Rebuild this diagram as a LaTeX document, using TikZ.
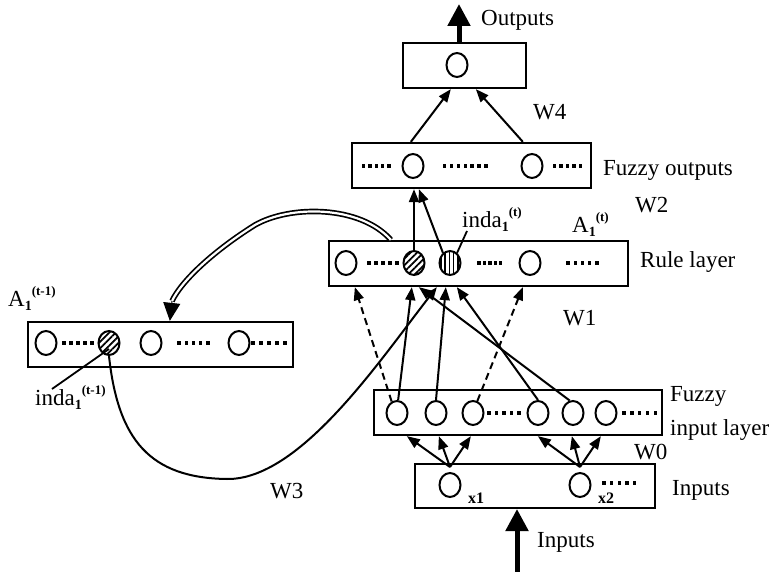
\documentclass[tikz,border=0pt]{standalone}
\usepackage{fontspec}
\setmainfont{Liberation Serif}
\usetikzlibrary{arrows.meta,shapes.geometric,patterns.meta}

% index pair: subscript followed by superscript
\newcommand\idx[2]{\raisebox{-4pt}{\fontsize{14}{14}\selectfont\bfseries #1}\raisebox{11pt}{\fontsize{13}{13}\selectfont\bfseries #2}}
% row of square dots: x of first dot, y, spacing, count
\newcommand\dotrow[4]{\foreach \k in {1,...,#4}{\fill ({#1+(\k-1)*#3-1.7},{#2-1.7}) rectangle ++(3.4,3.4);}}

\tikzset{
  every node/.style={font=\fontsize{23}{27}\selectfont},
  layerbox/.style={draw, rectangle, line width=2.3pt, inner sep=0pt, minimum height=45pt},
  neuron/.style={ellipse, draw, line width=2pt, minimum width=21pt, minimum height=24pt, inner sep=0pt},
  diaghatch/.style={pattern={Lines[angle=45,distance=4.6pt,line width=1.7pt]}},
  verthatch/.style={pattern={Lines[angle=90,distance=4.2pt,line width=1.6pt]}},
  conn/.style={line width=2pt, -{Triangle[length=13pt,width=10pt]}},
  dconn/.style={conn, dash pattern=on 7pt off 4.5pt},
  bigarrow/.style={line width=5pt, -{Triangle[length=22pt,width=22pt]}},
  lbl/.style={anchor=base west, inner sep=0pt},
  small/.style={font=\fontsize{16}{16}\selectfont\bfseries},
  pointer/.style={line width=1.8pt},
}

\begin{document}
\begin{tikzpicture}[x=1pt,y=-1pt]
\useasboundingbox (0,0) rectangle (782,572);

% layer boxes
\node[layerbox, minimum width=123pt] (outbox) at (464.5,65.5) {};
\node[layerbox, minimum width=239pt] (fobox) at (471.5,165.5) {};
\node[layerbox, minimum width=299pt] (rulebox) at (478.5,263.5) {};
\node[layerbox, minimum width=265pt] (prevbox) at (160.5,344.5) {};
\node[layerbox, minimum width=288pt] (fibox) at (518,412.5) {};
\node[layerbox, minimum width=240pt, minimum height=44pt] (inbox) at (535,486) {};

% neurons
\node[neuron] (o1) at (457,65) {};
\node[neuron] (fo1) at (413,166) {};
\node[neuron] (fo2) at (532,166) {};
\node[neuron] (r1) at (346,263) {};
\node[neuron, diaghatch] (r2) at (414,263) {};
\node[neuron, verthatch] (r3) at (450,263) {};
\node[neuron] (r4) at (530,263) {};
\node[neuron] (p1) at (46,343) {};
\node[neuron, diaghatch] (p2) at (109,343) {};
\node[neuron] (p3) at (151,343) {};
\node[neuron] (p4) at (239,343) {};
\node[neuron] (f1) at (397,413) {};
\node[neuron] (f2) at (436,413) {};
\node[neuron] (f3) at (473,413) {};
\node[neuron] (f4) at (538,413) {};
\node[neuron] (f5) at (573,413) {};
\node[neuron] (f6) at (606,413) {};
\node[neuron] (x1) at (450,485) {};
\node[neuron] (x2) at (580,485) {};

% dotted continuations inside the boxes
\dotrow{363.5}{166}{6.4}{5}
\dotrow{444.5}{166}{6.9}{7}
\dotrow{554.5}{166}{6.5}{5}
\dotrow{369}{263}{7}{5}
\dotrow{479}{263}{5.4}{5}
\dotrow{568}{263}{7.2}{5}
\dotrow{64}{343}{7}{5}
\dotrow{179}{343}{7.2}{5}
\dotrow{253}{343}{8}{5}
\dotrow{489}{413}{7.5}{5}
\dotrow{624}{413}{7.8}{5}
\dotrow{604}{483}{7.6}{5}

% labels
\node[lbl] (outlbl) at (481,26) {Outputs};
\node[lbl] (w4) at (533,120) {W4};
\node[lbl] (folbl) at (603,176) {Fuzzy outputs};
\node[lbl] (w2) at (635,213) {W2};
\node[lbl] (rulelbl) at (640,268) {Rule layer};
\node[lbl] (w1) at (563,325) {W1};
\node[lbl] (indat) at (462,228) {inda\idx{1}{(t)}};
\node[lbl] (at) at (572,233) {A\idx{1}{(t)}};
\node[lbl] (ap) at (8,306) {A\idx{1}{(t-1)}};
\node[lbl] (indap) at (35,405) {inda\idx{1}{(t-1)}};
\node[lbl] (w3) at (270,498) {W3};
\node[lbl] (fil1) at (670,401) {Fuzzy};
\node[lbl] (fil2) at (670,435) {input layer};
\node[lbl] (w0) at (634,459) {W0};
\node[lbl] (inlbl) at (672,495) {Inputs};
\node[lbl] (inarr) at (537,547) {Inputs};
\node[lbl, small] (x1l) at (468,503) {x1};
\node[lbl, small] (x2l) at (598,503) {x2};

% network output and input arrows
\coordinate (outtip) at (459,4);
\draw[bigarrow] (outbox.north -| outtip) -- (outtip);
\coordinate (intail) at (517,574);
\coordinate (intip) at (517,509);
\draw[bigarrow] (intail) -- (intip);

% W4
\draw[conn] ([xshift=60pt]fobox.north west) -- ([xshift=49pt]outbox.south west);
\draw[conn] ([xshift=172pt]fobox.north west) -- ([xshift=74pt]outbox.south west);

% W2
\draw[conn] (r2.north) -- (r2.north |- fobox.south);
\draw[conn] (r3.125) -- ([xshift=68pt]fobox.south west);

% W1
\draw[dconn] (f1.115) -- ([xshift=27pt]rulebox.south west);
\draw[conn] (f1.85) -- ([xshift=84pt]rulebox.south west);
\draw[conn] (f2.north) -- ([xshift=118pt]rulebox.south west);
\draw[dconn] (f3.70) -- ([xshift=195pt]rulebox.south west);
\draw[conn] (f4.north) -- ([xshift=129pt]rulebox.south west);
\draw[conn] (f5.105) -- ([xshift=91pt]rulebox.south west);

% W0
\draw[conn] ([yshift=5pt]x1.north) -- ([xshift=34pt]fibox.south west);
\draw[conn] ([yshift=5pt]x1.north) -- ([xshift=66pt]fibox.south west);
\draw[conn] ([yshift=5pt]x1.north) -- ([xshift=98pt]fibox.south west);
\draw[conn] ([yshift=5pt]x2.north) -- ([xshift=165pt]fibox.south west);
\draw[conn] ([yshift=5pt]x2.north) -- ([xshift=199pt]fibox.south west);
\draw[conn] ([yshift=5pt]x2.north) -- ([xshift=228pt]fibox.south west);

% W3 recurrent link
\draw[conn] (p2.south) .. controls (118,440) and (150,478) .. (227,479)
  .. controls (300,480) and (380,360) .. ([xshift=109pt]rulebox.south west);

% copy of the rule activations to the previous-step layer
\coordinate (dblend) at (172,301);
\draw[line width=1.7pt, double, double distance=2.2pt]
  ([xshift=63pt]rulebox.north west) .. controls (360,205) and (290,205) .. (255,225)
  .. controls (215,250) and (182,280) .. (dblend);
\draw[line width=1pt, -{Triangle[length=18pt,width=17pt]}] (dblend) -- ([xshift=143pt]prevbox.north west);

% label pointers
\draw[pointer] (r3.55) -- ([xshift=5pt,yshift=-3pt]indat.base west);
\draw[pointer] ([yshift=-6pt]p2.center) -- ([xshift=17pt,yshift=16pt]indap.base west);
\end{tikzpicture}
\end{document}
